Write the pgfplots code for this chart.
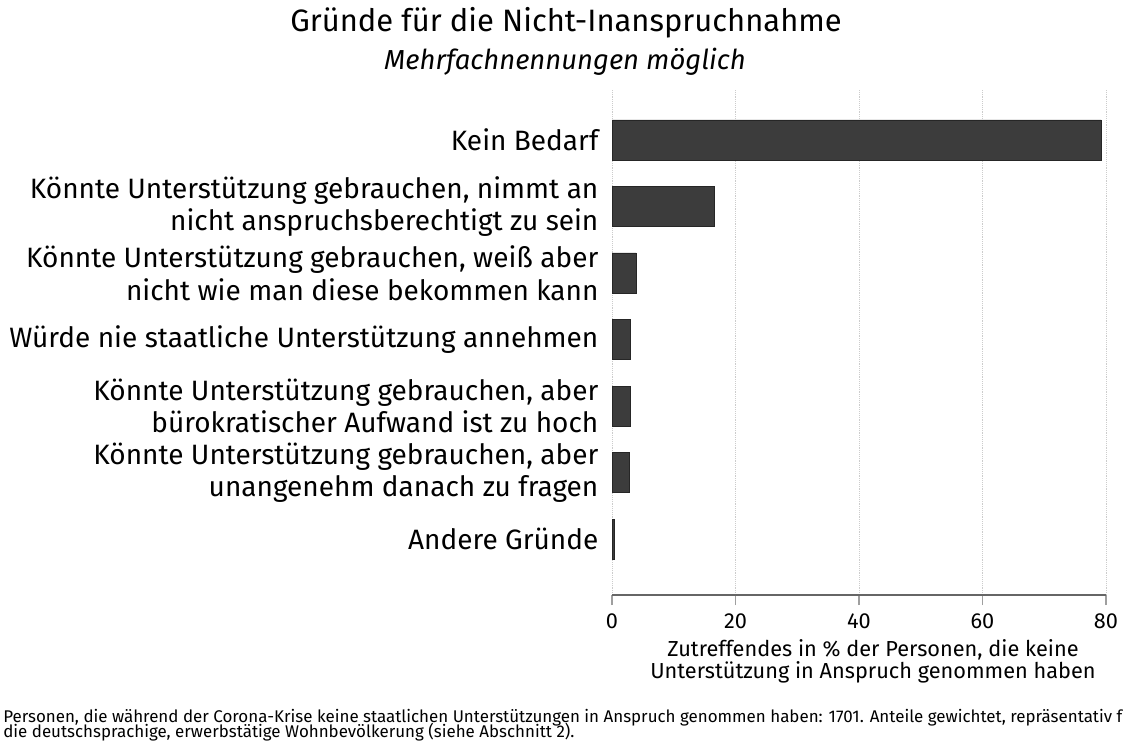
\documentclass[border=0pt]{standalone}
\usepackage{pgfplots}
\pgfplotsset{compat=1.18}
\usepackage{fontspec}
\setmainfont{Fira Sans}
\definecolor{barc}{HTML}{3C3C3C}
\begin{document}
\begin{tikzpicture}[x=0.75pt,y=-0.75pt]
\useasboundingbox (0,0) rectangle (1123,742);
\node[font=\fontsize{23.2}{27}\selectfont] at (566,23) {Gründe für die Nicht-Inanspruchnahme};
\node[font=\fontsize{20.6}{24}\selectfont\itshape] at (565,62) {Mehrfachnennungen möglich};
\begin{axis}[
  at={(459pt,-446.25pt)}, anchor=south west,
  scale only axis, width=370.5pt, height=378.75pt,
  xbar, bar width=30pt,
  xmin=0, xmax=80,
  ymin=-0.75, ymax=6.84, y dir=reverse,
  xtick={0,20,40,60,80},
  ytick={0,1,2,3,4,5,6},
  yticklabels={{Kein Bedarf},
    {Könnte Unterstützung gebrauchen, nimmt an\\nicht anspruchsberechtigt zu sein},
    {Könnte Unterstützung gebrauchen, weiß aber\\nicht wie man diese bekommen kann},
    {Würde nie staatliche Unterstützung annehmen},
    {Könnte Unterstützung gebrauchen, aber\\bürokratischer Aufwand ist zu hoch},
    {Könnte Unterstützung gebrauchen, aber\\unangenehm danach zu fragen},
    {Andere Gründe}},
  yticklabel style={align=right, font={\fontsize{21}{24.5}\selectfont\lineskiplimit=-10pt}, inner sep=0pt, xshift=-2.5pt},
  xticklabel style={font=\fontsize{16.3}{18}\selectfont, yshift=-3pt},
  /pgf/number format/assume math mode=true,
  axis x line*=bottom, axis y line*=left,
  y axis line style={draw=none},
  major y tick style={draw=none},
  x axis line style={draw=gray!80!black, line width=0.9pt},
  major x tick style={draw=gray!75, line width=0.9pt},
  tick align=outside, major tick length=7.5pt,
  xmajorgrids, grid style={densely dotted, gray!40},
  xlabel={Zutreffendes in \% der Personen, die keine\\Unterstützung in Anspruch genommen haben},
  xlabel style={align=center, font={\fontsize{16.3}{16.5}\selectfont\lineskiplimit=-10pt}, xshift=10.5pt, yshift=-1pt},
  clip=false,
]
\addplot[fill=barc, draw=black!85, line width=0.5pt] coordinates {
  (79.2,0) (16.5,1) (3.9,2) (2.9,3) (2.9,4) (2.75,5) (0.4,6)
};
\end{axis}
\node[anchor=north west, align=left, inner sep=0pt, font={\fontsize{12.7}{11.3}\selectfont\lineskiplimit=-10pt}] at (3,709) {Personen, die während der Corona-Krise keine staatlichen Unterstützungen in Anspruch genommen haben: 1701. Anteile gewichtet, repräsentativ für\\die deutschsprachige, erwerbstätige Wohnbevölkerung (siehe Abschnitt 2).};
\end{tikzpicture}
\end{document}
